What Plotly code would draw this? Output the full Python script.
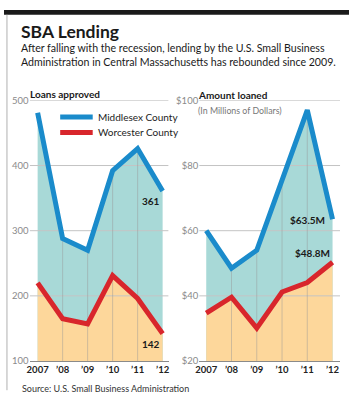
import plotly.graph_objects as go

years = [2007, 2008, 2009, 2010, 2011, 2012]
year_labels = ["<b>2007</b>", "<b>’08</b>", "<b>’09</b>", "<b>’10</b>", "<b>’11</b>", "<b>’12</b>"]

loans_middlesex = [481, 288, 270, 392, 426, 361]
loans_worcester = [220, 165, 157, 231, 196, 142]
loans_ticks = [100, 200, 300, 400, 500]
loans_tick_labels = ["100", "200", "300", "400", "500"]

amount_middlesex = [60, 48.5, 54, 75.5, 97, 63.5]
amount_worcester = [34.7, 39.6, 30.1, 41.2, 44.1, 50.3]
amount_ticks = [20, 40, 60, 80, 100]
amount_tick_labels = ["$20", "$40", "$60", "$80", "$100"]

W, H = 350, 403
BLUE = "#1a8bcb"
RED = "#d8262c"
TEAL = "#a8d9d7"
ORANGE = "#fdd79b"
GRID = "#c4c4c4"
FONT = "Lato, Roboto, sans-serif"

def px(x):
    return x / W

def py(y):
    return 1 - y / H

fig = go.Figure()

panels = [
    ("x", "y", loans_middlesex, loans_worcester, loans_ticks, [2006.68, 2012.24]),
    ("x2", "y2", amount_middlesex, amount_worcester, amount_ticks, [2006.72, 2012.3]),
]

for xa, ya, mid, wor, ticks, xr in panels:
    base = ticks[0]
    fig.add_trace(go.Scatter(x=years, y=mid, fill="tozeroy", fillcolor=TEAL, mode="none",
                             xaxis=xa, yaxis=ya, showlegend=False, hoverinfo="skip"))
    fig.add_trace(go.Scatter(x=years, y=wor, fill="tozeroy", fillcolor=ORANGE, mode="none",
                             xaxis=xa, yaxis=ya, showlegend=False, hoverinfo="skip"))
    for t in ticks[1:]:
        fig.add_trace(go.Scatter(x=xr, y=[t, t], mode="lines", line=dict(color=GRID, width=1),
                                 xaxis=xa, yaxis=ya, showlegend=False, hoverinfo="skip"))
    for yr, v in zip(years[1:-1], mid[1:-1]):
        fig.add_trace(go.Scatter(x=[yr, yr], y=[base, v], mode="lines",
                                 line=dict(color="rgba(150,150,150,0.45)", width=1),
                                 xaxis=xa, yaxis=ya, showlegend=False, hoverinfo="skip"))
    fig.add_trace(go.Scatter(x=years, y=mid, mode="lines", line=dict(color=BLUE, width=5),
                             xaxis=xa, yaxis=ya, showlegend=False, hoverinfo="skip"))
    fig.add_trace(go.Scatter(x=years, y=wor, mode="lines", line=dict(color=RED, width=5),
                             xaxis=xa, yaxis=ya, showlegend=False, hoverinfo="skip"))

y_dom = [py(365), py(97)]
common_x = dict(tickvals=years, ticktext=year_labels, showgrid=False, zeroline=False,
                showline=True, linecolor="#8a8a8a", linewidth=1, ticks="", tickangle=0,
                tickfont=dict(family=FONT, size=9.5, color="#222"), fixedrange=True)
common_y = dict(showgrid=False, zeroline=False, showline=False, ticks="",
                tickfont=dict(family=FONT, size=9.5, color="#8a8a8a"), fixedrange=True)

fig.update_layout(
    width=W, height=H,
    margin=dict(l=0, r=0, t=0, b=0),
    paper_bgcolor="white", plot_bgcolor="rgba(0,0,0,0)",
    xaxis=dict(domain=[px(26), px(167)], range=[2006.68, 2012.24], anchor="y", **common_x),
    yaxis=dict(domain=y_dom, range=[100, 500], anchor="x", tickvals=loans_ticks,
               ticktext=loans_tick_labels, **common_y),
    xaxis2=dict(domain=[px(198), px(341)], range=[2006.72, 2012.3], anchor="y2", **common_x),
    yaxis2=dict(domain=y_dom, range=[20, 100], anchor="x2", tickvals=amount_ticks,
                ticktext=amount_tick_labels, **common_y),
    showlegend=False,
)

shapes = [
    dict(type="rect", xref="paper", yref="paper", x0=0, x1=1, y0=py(9), y1=py(4),
         fillcolor="#1a1a1a", line=dict(width=0)),
    dict(type="line", xref="paper", yref="paper", x0=px(3), x1=px(3), y0=py(395), y1=py(9),
         line=dict(color="#b0b0b0", width=1)),
    dict(type="line", xref="paper", yref="paper", x0=px(57), x1=px(90), y0=py(114), y1=py(114),
         line=dict(color=BLUE, width=5)),
    dict(type="line", xref="paper", yref="paper", x0=px(57), x1=px(90), y0=py(130), y1=py(130),
         line=dict(color=RED, width=5)),
]
fig.update_layout(shapes=shapes)

ann = []
def text(x, y, s, size, color="#1a1a1a", xanchor="left", family=FONT):
    ann.append(dict(xref="paper", yref="paper", x=px(x), y=py(y), text=s, showarrow=False,
                    xanchor=xanchor, yanchor="middle", borderpad=0,
                    font=dict(family=family, size=size, color=color)))

text(16, 26, "<b>SBA Lending</b>", 17.5)
text(16, 43.5, "After falling with the recession, lending by the U.S. Small Business", 10.6)
text(16, 57.5, "Administration in Central Massachusetts has rebounded since 2009.", 10.6)
text(25, 90, "<b>Loans approved</b>", 10)
text(196, 91, "<b>Amount loaned</b>", 10)
text(196, 107, "(In Millions of Dollars)", 8.8, color="#777")
text(94, 114, "Middlesex County", 10, color="#222")
text(94, 130, "Worcester County", 10, color="#222")
text(17, 393, "Source: U.S. Small Business Administration", 9, color="#333")

lbl = dict(family=FONT, size=10, color="#1a1a1a")
ann.append(dict(x=years[-1], y=loans_middlesex[-1], xref="x", yref="y", text="<b>361</b>",
                showarrow=False, xanchor="right", yanchor="middle", xshift=-1, yshift=-10, font=lbl))
ann.append(dict(x=years[-1], y=loans_worcester[-1], xref="x", yref="y", text="<b>142</b>",
                showarrow=False, xanchor="right", yanchor="middle", xshift=-1, yshift=-10, font=lbl))
ann.append(dict(x=years[-1], y=amount_middlesex[-1], xref="x2", yref="y2", text="<b>$63.5M</b>",
                showarrow=False, xanchor="right", yanchor="middle", xshift=-6, yshift=-1, font=lbl))
ann.append(dict(x=years[-1], y=amount_worcester[-1], xref="x2", yref="y2", text="<b>$48.8M</b>",
                showarrow=False, xanchor="right", yanchor="middle", xshift=-1, yshift=9, font=lbl))
fig.update_layout(annotations=ann)

fig.write_html("out.html")
